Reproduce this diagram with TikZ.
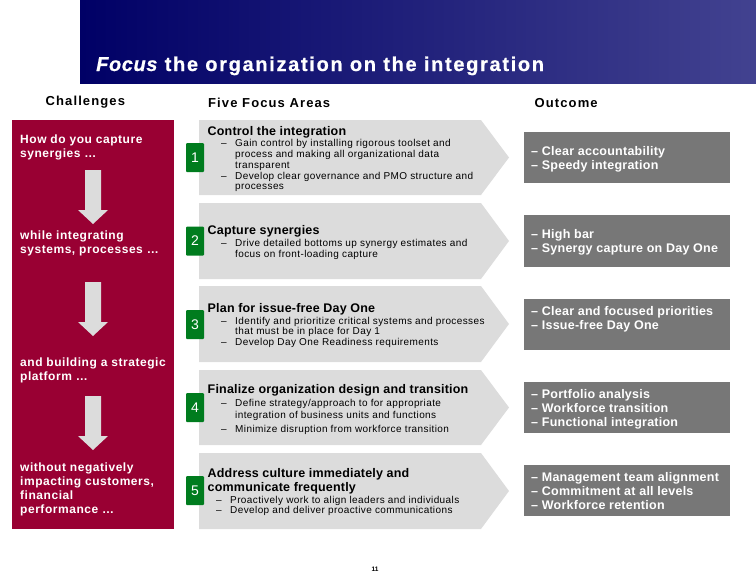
\documentclass[tikz,border=0pt]{standalone}
\usepackage{fontspec}
\setmainfont{Liberation Sans}
\newfontface\ttlfont[LetterSpace=8.4,FakeBold=0.6]{Liberation Sans Bold}
\newfontface\ttlitfont[LetterSpace=3,FakeBold=0.6]{Liberation Sans Bold Italic}
\newfontface\hdfont[LetterSpace=8.5]{Liberation Sans Bold}
\newfontface\redfont[LetterSpace=4.5]{Liberation Sans Bold}
\newfontface\areafont[LetterSpace=1.5]{Liberation Sans Bold}
\newfontface\outfont[LetterSpace=2]{Liberation Sans Bold}
\newfontface\bodyfont[LetterSpace=4]{Liberation Sans}
\definecolor{navyA}{HTML}{000066}
\definecolor{navyB}{HTML}{424290}
\definecolor{crimson}{HTML}{990033}
\definecolor{chev}{HTML}{DCDCDC}
\definecolor{outg}{HTML}{777777}
\definecolor{numg}{HTML}{007C1E}
\tikzset{
  x=1pt,y=-1pt,
  txt/.style={anchor=base west,inner sep=0pt,align=left},
  hdtxt/.style={txt,font=\hdfont\fontsize{13}{15}\selectfont,text=black},
  redtxt/.style={txt,font=\redfont\fontsize{12}{14}\selectfont,text=white},
  areatxt/.style={txt,font=\areafont\fontsize{12.5}{14}\selectfont,text=black},
  bultxt/.style={txt,font=\bodyfont\fontsize{10}{11}\selectfont,text=black},
  outtxt/.style={txt,font=\outfont\fontsize{12.5}{14}\selectfont,text=white},
  numbox/.style={fill=numg,rounded corners=1pt,minimum width=18pt,minimum height=29pt,inner sep=0pt,text=white,font=\fontsize{14}{16}\selectfont},
  outbox/.style={fill=outg,minimum width=206pt,minimum height=51pt,inner sep=0pt},
  chevron/.style={fill=chev},
  downarrow/.style={fill=chev},
}
\newcommand{\chevshape}[2]{\fill[chevron] (199,#1) -- (481,#1) -- (509,{(#1+#2)/2}) -- (481,#2) -- (199,#2) -- cycle;}
\newcommand{\downarr}[1]{\fill[downarrow] (85,#1) -- (101,#1) -- (101,#1+40) -- (108,#1+40) -- (93,#1+54) -- (78,#1+40) -- (85,#1+40) -- cycle;}
\newcommand{\dashline}[1]{\makebox[14pt][l]{–}#1}
\begin{document}
\begin{tikzpicture}
\useasboundingbox (0,0) rectangle (756,576);
\shade[left color=navyA,right color=navyB] (80,0) rectangle (756,83);
\node[txt,text=white] (title) at (96,71) {{\ttlitfont\fontsize{20}{22}\selectfont Focus}{\ttlfont\fontsize{20}{22}\selectfont{} the organization on the integration}};

\node[hdtxt] (h1) at (45.5,105) {Challenges};
\node[hdtxt] (h2) at (208,107) {Five Focus Areas};
\node[hdtxt] (h3) at (534.5,107) {Outcome};

\fill[crimson] (12,120) rectangle (174,529);
\downarr{170}\downarr{282}\downarr{396}
\node[redtxt] (c1) at (20,157) {How do you capture\\synergies \dots};
\node[redtxt] (c2) at (20,253) {while integrating\\systems, processes \dots};
\node[redtxt] (c3) at (20,380) {and building a strategic\\platform \dots};
\node[redtxt] (c4) at (20,513) {without negatively\\impacting customers,\\financial\\performance \dots};

\chevshape{120}{195}\chevshape{203}{279}\chevshape{286}{362}\chevshape{370}{445}\chevshape{453}{529}

\node[numbox] (n1) at (195,157.5) {1};
\node[numbox] (n2) at (195,241) {2};
\node[numbox] (n3) at (195,324.5) {3};
\node[numbox] (n4) at (195,407.5) {4};
\node[numbox] (n5) at (195,490.5) {5};

\node[areatxt] (a1) at (207.5,135) {Control the integration};
\node[bultxt] (b1a) at (221,146) {\dashline{Gain control by installing rigorous toolset and}};
\node[bultxt] (b1b) at (235,157) {process and making all organizational data};
\node[bultxt] (b1c) at (235,168) {transparent};
\node[bultxt] (b1d) at (221,179) {\dashline{Develop clear governance and PMO structure and}};
\node[bultxt] (b1e) at (235,189) {processes};

\node[areatxt] (a2) at (207.5,234) {Capture synergies};
\node[bultxt] (b2a) at (221,246) {\dashline{Drive detailed bottoms up synergy estimates and}};
\node[bultxt] (b2b) at (235,257) {focus on front-loading capture};

\node[areatxt] (a3) at (207.5,312) {Plan for issue-free Day One};
\node[bultxt] (b3a) at (221,324) {\dashline{Identify and prioritize critical systems and processes}};
\node[bultxt] (b3b) at (235,334) {that must be in place for Day 1};
\node[bultxt] (b3c) at (221,345) {\dashline{Develop Day One Readiness requirements}};

\node[areatxt] (a4) at (207.5,393) {Finalize organization design and transition};
\node[bultxt] (b4a) at (221,406) {\dashline{Define strategy/approach to for appropriate}};
\node[bultxt] (b4b) at (235,418) {integration of business units and functions};
\node[bultxt] (b4c) at (221,432) {\dashline{Minimize disruption from workforce transition}};

\node[areatxt] (a5) at (207.5,477) {Address culture immediately and};
\node[areatxt] (a5b) at (207.5,491) {communicate frequently};
\node[bultxt] (b5a) at (216,503) {\dashline{Proactively work to align leaders and individuals}};
\node[bultxt] (b5b) at (216,513) {\dashline{Develop and deliver proactive communications}};

\node[outbox] (o1) at (627,157.5) {};
\node[outbox,minimum height=52pt] (o2) at (627,241) {};
\node[outbox] (o3) at (627,324.5) {};
\node[outbox] (o4) at (627,407.5) {};
\node[outbox] (o5) at (627,490.5) {};
\node[outtxt] (t1) at (531,169) {– Clear accountability\\– Speedy integration};
\node[outtxt] (t2) at (531,252) {– High bar\\– Synergy capture on Day One};
\node[outtxt] (t3) at (531,329) {– Clear and focused priorities\\– Issue-free Day One};
\node[outtxt] (t4) at (531,426) {– Portfolio analysis\\– Workforce transition\\– Functional integration};
\node[outtxt] (t5) at (531,509) {– Management team alignment\\– Commitment at all levels\\– Workforce retention};

\node[txt,font=\bfseries\fontsize{6.5}{7}\selectfont] (pg) at (371.5,571) {11};
\end{tikzpicture}
\end{document}
